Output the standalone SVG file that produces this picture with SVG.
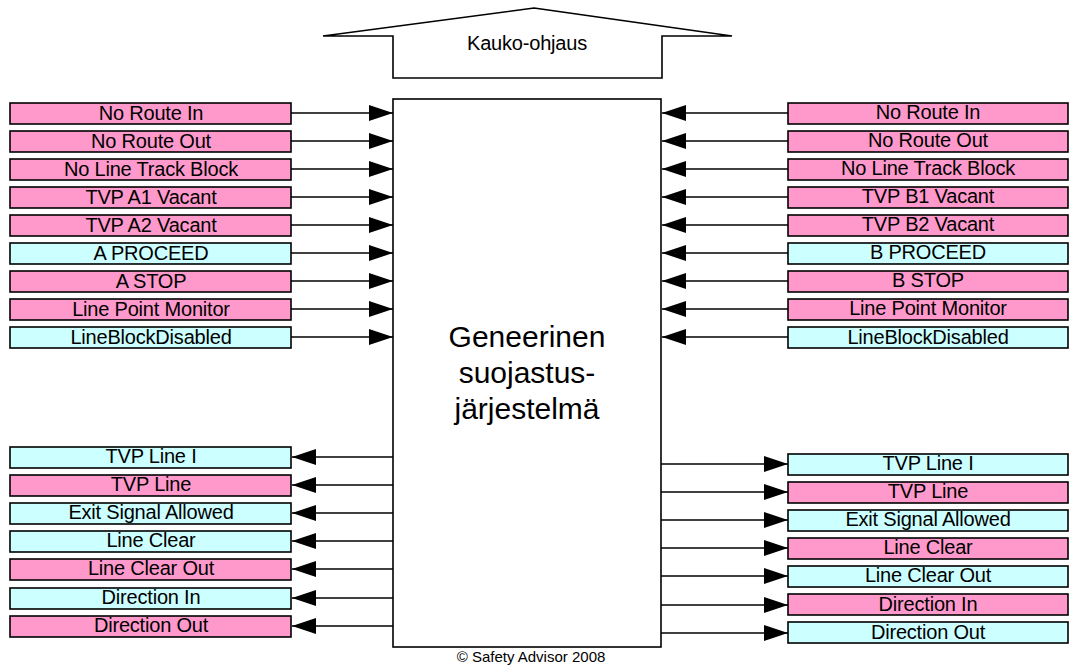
<svg xmlns="http://www.w3.org/2000/svg" width="1069" height="666" viewBox="0 0 1069 666">
  <style>
    .sig { stroke: #000; stroke-width: 1.6; }
    .pink { fill: #FF99CC; }
    .cyan { fill: #CCFFFF; }
    .lbl { font-family: "Liberation Sans", Arial, sans-serif; font-size: 20px; letter-spacing: -0.2px; fill: #000; text-anchor: middle; }
    .conn { stroke: #000; stroke-width: 1.5; fill: none; marker-end: url(#head); }
    .big { font-family: "Liberation Sans", Arial, sans-serif; font-size: 30px; fill: #000; text-anchor: middle; }
  </style>
  <defs>
    <marker id="head" markerUnits="userSpaceOnUse" markerWidth="25" markerHeight="18" refX="24" refY="8" orient="auto">
      <path d="M0,0 L24,8 L0,16 Z" fill="#000"/>
    </marker>
  </defs>
  <rect width="1069" height="666" fill="#fff"/>

  <!-- remote control arrow -->
  <g id="kauko">
    <path d="M534,8 L732,36 L662,36 L662,78 L393,78 L393,36 L323,36 Z" fill="#fff" stroke="#000" stroke-width="1.6"/>
    <text class="lbl" x="527" y="50" font-size="19" letter-spacing="0">Kauko-ohjaus</text>
  </g>

  <!-- central interlocking block -->
  <g id="core">
    <rect x="393" y="99" width="268" height="548" fill="#fff" stroke="#000" stroke-width="1.6"/>
    <text class="big" x="527" y="347">Geneerinen</text>
    <text class="big" x="527" y="383">suojastus-</text>
    <text class="big" x="527" y="419">järjestelmä</text>
  </g>

  <!-- connectors -->
  <g id="connectors">
    <!-- left inputs -->
    <path class="conn" d="M291,113 H393"/>
    <path class="conn" d="M291,141 H393"/>
    <path class="conn" d="M291,169 H393"/>
    <path class="conn" d="M291,197 H393"/>
    <path class="conn" d="M291,225 H393"/>
    <path class="conn" d="M291,253 H393"/>
    <path class="conn" d="M291,281 H393"/>
    <path class="conn" d="M291,309 H393"/>
    <path class="conn" d="M291,337 H393"/>
    <!-- right inputs -->
    <path class="conn" d="M788,113 H662"/>
    <path class="conn" d="M788,141 H662"/>
    <path class="conn" d="M788,169 H662"/>
    <path class="conn" d="M788,197 H662"/>
    <path class="conn" d="M788,225 H662"/>
    <path class="conn" d="M788,253 H662"/>
    <path class="conn" d="M788,281 H662"/>
    <path class="conn" d="M788,309 H662"/>
    <path class="conn" d="M788,337 H662"/>
    <!-- left outputs -->
    <path class="conn" d="M393,457 H292"/>
    <path class="conn" d="M393,485 H292"/>
    <path class="conn" d="M393,513 H292"/>
    <path class="conn" d="M393,541 H292"/>
    <path class="conn" d="M393,569 H292"/>
    <path class="conn" d="M393,598 H292"/>
    <path class="conn" d="M393,626 H292"/>
    <!-- right outputs -->
    <path class="conn" d="M661,464 H788"/>
    <path class="conn" d="M661,492 H788"/>
    <path class="conn" d="M661,520 H788"/>
    <path class="conn" d="M661,548 H788"/>
    <path class="conn" d="M661,576 H788"/>
    <path class="conn" d="M661,605 H788"/>
    <path class="conn" d="M661,633 H788"/>
  </g>

  <!-- left input signals -->
  <g id="l-no-route-in"><rect class="sig pink" x="10" y="103" width="281" height="21"/><text class="lbl" x="151" y="120">No Route In</text></g>
  <g id="l-no-route-out"><rect class="sig pink" x="10" y="131" width="281" height="21"/><text class="lbl" x="151" y="148">No Route Out</text></g>
  <g id="l-no-line-track-block"><rect class="sig pink" x="10" y="159" width="281" height="21"/><text class="lbl" x="151" y="176">No Line Track Block</text></g>
  <g id="l-tvp-a1"><rect class="sig pink" x="10" y="187" width="281" height="21"/><text class="lbl" x="151" y="204">TVP A1 Vacant</text></g>
  <g id="l-tvp-a2"><rect class="sig pink" x="10" y="215" width="281" height="21"/><text class="lbl" x="151" y="232">TVP A2 Vacant</text></g>
  <g id="l-a-proceed"><rect class="sig cyan" x="10" y="243" width="281" height="21"/><text class="lbl" x="151" y="260">A PROCEED</text></g>
  <g id="l-a-stop"><rect class="sig pink" x="10" y="271" width="281" height="21"/><text class="lbl" x="151" y="288">A STOP</text></g>
  <g id="l-line-point-monitor"><rect class="sig pink" x="10" y="299" width="281" height="21"/><text class="lbl" x="151" y="316">Line Point Monitor</text></g>
  <g id="l-lineblockdisabled"><rect class="sig cyan" x="10" y="327" width="281" height="21"/><text class="lbl" x="151" y="344">LineBlockDisabled</text></g>

  <!-- right input signals -->
  <g id="r-no-route-in"><rect class="sig pink" x="788" y="103" width="280" height="21"/><text class="lbl" x="928" y="119">No Route In</text></g>
  <g id="r-no-route-out"><rect class="sig pink" x="788" y="131" width="280" height="21"/><text class="lbl" x="928" y="147">No Route Out</text></g>
  <g id="r-no-line-track-block"><rect class="sig pink" x="788" y="159" width="280" height="21"/><text class="lbl" x="928" y="175">No Line Track Block</text></g>
  <g id="r-tvp-b1"><rect class="sig pink" x="788" y="187" width="280" height="21"/><text class="lbl" x="928" y="203">TVP B1 Vacant</text></g>
  <g id="r-tvp-b2"><rect class="sig pink" x="788" y="215" width="280" height="21"/><text class="lbl" x="928" y="231">TVP B2 Vacant</text></g>
  <g id="r-b-proceed"><rect class="sig cyan" x="788" y="243" width="280" height="21"/><text class="lbl" x="928" y="259">B PROCEED</text></g>
  <g id="r-b-stop"><rect class="sig pink" x="788" y="271" width="280" height="21"/><text class="lbl" x="928" y="287">B STOP</text></g>
  <g id="r-line-point-monitor"><rect class="sig pink" x="788" y="299" width="280" height="21"/><text class="lbl" x="928" y="315">Line Point Monitor</text></g>
  <g id="r-lineblockdisabled"><rect class="sig cyan" x="788" y="327" width="280" height="21"/><text class="lbl" x="928" y="344">LineBlockDisabled</text></g>

  <!-- left output signals -->
  <g id="lo-tvp-line-i"><rect class="sig cyan" x="10" y="447" width="281" height="21"/><text class="lbl" x="151" y="463">TVP Line I</text></g>
  <g id="lo-tvp-line"><rect class="sig pink" x="10" y="475" width="281" height="21"/><text class="lbl" x="151" y="491">TVP Line</text></g>
  <g id="lo-exit-signal"><rect class="sig cyan" x="10" y="503" width="281" height="21"/><text class="lbl" x="151" y="519">Exit Signal Allowed</text></g>
  <g id="lo-line-clear"><rect class="sig cyan" x="10" y="531" width="281" height="21"/><text class="lbl" x="151" y="547">Line Clear</text></g>
  <g id="lo-line-clear-out"><rect class="sig pink" x="10" y="559" width="281" height="21"/><text class="lbl" x="151" y="575">Line Clear Out</text></g>
  <g id="lo-direction-in"><rect class="sig cyan" x="10" y="588" width="281" height="21"/><text class="lbl" x="151" y="604">Direction In</text></g>
  <g id="lo-direction-out"><rect class="sig pink" x="10" y="616" width="281" height="21"/><text class="lbl" x="151" y="632">Direction Out</text></g>

  <!-- right output signals -->
  <g id="ro-tvp-line-i"><rect class="sig cyan" x="788" y="454" width="280" height="21"/><text class="lbl" x="928" y="470">TVP Line I</text></g>
  <g id="ro-tvp-line"><rect class="sig pink" x="788" y="482" width="280" height="21"/><text class="lbl" x="928" y="498">TVP Line</text></g>
  <g id="ro-exit-signal"><rect class="sig cyan" x="788" y="510" width="280" height="21"/><text class="lbl" x="928" y="526">Exit Signal Allowed</text></g>
  <g id="ro-line-clear"><rect class="sig pink" x="788" y="538" width="280" height="21"/><text class="lbl" x="928" y="554">Line Clear</text></g>
  <g id="ro-line-clear-out"><rect class="sig cyan" x="788" y="566" width="280" height="21"/><text class="lbl" x="928" y="582">Line Clear Out</text></g>
  <g id="ro-direction-in"><rect class="sig pink" x="788" y="594" width="280" height="21"/><text class="lbl" x="928" y="611">Direction In</text></g>
  <g id="ro-direction-out"><rect class="sig cyan" x="788" y="622" width="280" height="21"/><text class="lbl" x="928" y="639">Direction Out</text></g>

  <text x="531" y="662" font-family="Liberation Sans, Arial, sans-serif" font-size="15" text-anchor="middle" fill="#000">© Safety Advisor 2008</text>
</svg>
